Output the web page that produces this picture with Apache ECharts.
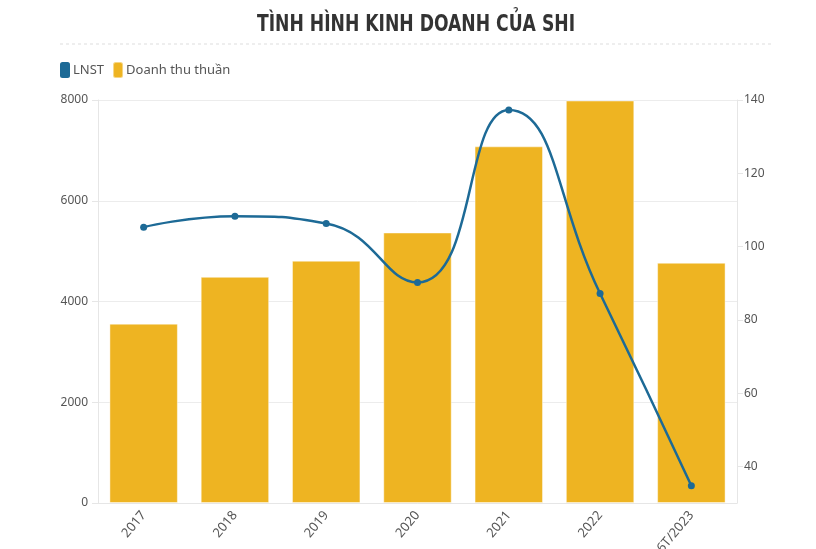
<!DOCTYPE html>
<html lang="vi">
<head>
  <meta charset="UTF-8" />
  <title>Tình hình kinh doanh của SHI</title>
  <script src="https://cdn.jsdelivr.net/npm/echarts@6/dist/echarts.min.js"></script>
  <style>
    * { padding: 0; margin: 0; }
    html, body { width: 100%; height: 100%; background: #fff; }
    #chart { width: 816px; height: 549px; }
  </style>
</head>
<body>
  <div id="chart"></div>
  <script>
    // du lieu doc tu hinh
    var years = ['2017', '2018', '2019', '2020', '2021', '2022', '6T/2023']
    var doanhThu = [3560, 4490, 4810, 5370, 7080, 7990, 4770]
    var lnst = [105.3, 108.3, 106.3, 90.2, 137.3, 87.2, 34.7]
    var rightTicks = [40, 60, 80, 100, 120, 140]

    var font = "'Noto Sans', sans-serif"
    var myChart = echarts.init(document.getElementById('chart'))

    var option = {
      animation: false,
      textStyle: { fontFamily: font },
      graphic: [{
        type: 'text',
        x: 416,
        y: 25,
        scaleX: 0.83,
        style: {
          text: 'TÌNH HÌNH KINH DOANH CỦA SHI',
          font: "bold 23px 'DejaVu Sans Condensed', 'Noto Sans', sans-serif",
          fill: '#333',
          align: 'center',
          verticalAlign: 'middle'
        }
      }, {
        type: 'line',
        shape: { x1: 60, y1: 44, x2: 772, y2: 44 },
        style: { stroke: '#ddd', lineWidth: 1, lineDash: [3, 3] }
      }],
      legend: {
        left: 55,
        top: 56,
        icon: 'roundRect',
        itemWidth: 10,
        itemHeight: 16,
        itemGap: 8,
        textStyle: { fontSize: 13, color: '#555', padding: [0, 0, 0, -2] },
        data: ['LNST', 'Doanh thu thuần']
      },
      grid: { left: 98, right: 79, top: 100, bottom: 46, outerBoundsMode: 'none', containLabel: false },
      xAxis: {
        type: 'category',
        data: years,
        axisLine: { lineStyle: { color: '#e6e6e6' } },
        axisTick: { alignWithLabel: true, lineStyle: { color: '#e6e6e6' }, length: 6 },
        axisLabel: { rotate: 50, color: '#555', fontSize: 13, margin: 10 }
      },
      yAxis: [{
        type: 'value',
        min: 0,
        max: 8000,
        interval: 2000,
        axisLine: { show: true, lineStyle: { color: '#e6e6e6' } },
        axisTick: { show: true, length: 6, lineStyle: { color: '#e6e6e6' } },
        axisLabel: { color: '#555', fontSize: 12, margin: 10, formatter: function (v) { return String(v) } },
        splitLine: { lineStyle: { color: '#ececec' } }
      }, {
        type: 'value',
        min: 30,
        max: 140,
        position: 'right',
        axisLine: { show: true, lineStyle: { color: '#e6e6e6' } },
        axisTick: { show: true, length: 6, customValues: rightTicks, lineStyle: { color: '#e6e6e6' } },
        axisLabel: { color: '#555', fontSize: 12, margin: 7, customValues: rightTicks },
        splitLine: { show: false }
      }],
      series: [{
        name: 'Doanh thu thuần',
        type: 'bar',
        data: doanhThu,
        barWidth: '75%',
        itemStyle: { color: '#EEB422', borderColor: 'rgba(255,255,255,0.45)', borderWidth: 1 },
        z: 1
      }, {
        name: 'LNST',
        type: 'line',
        yAxisIndex: 1,
        data: lnst,
        smooth: true,
        symbol: 'circle',
        symbolSize: 7,
        lineStyle: { color: '#1D6A96', width: 2.5 },
        itemStyle: { color: '#1D6A96' },
        z: 3
      }]
    }
    myChart.setOption(option)
    window.addEventListener('resize', function () { myChart.resize() })
  </script>
</body>
</html>
